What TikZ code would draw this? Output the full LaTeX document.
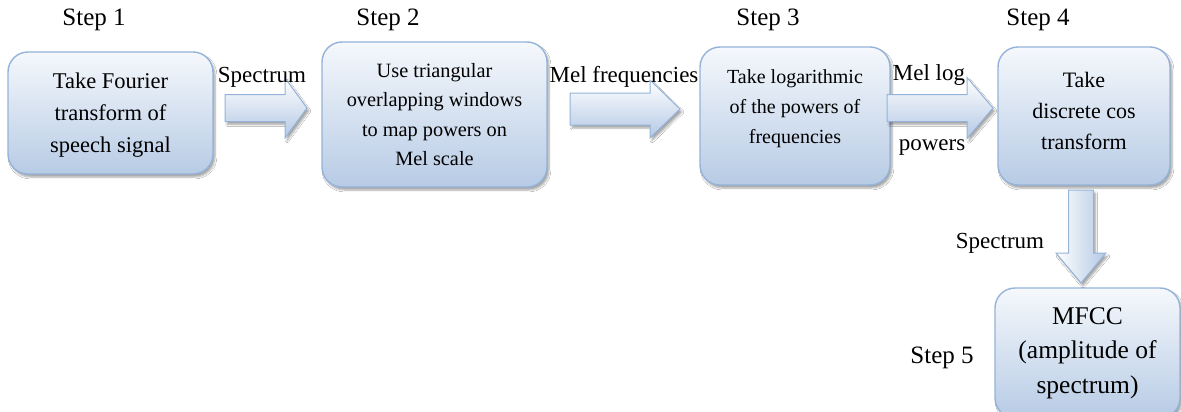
\documentclass[tikz,border=0pt]{standalone}
\usepackage{fontspec}
\setmainfont{Liberation Serif}
\usetikzlibrary{calc,shadows,shadows.blur}

\definecolor{boxline}{HTML}{95B3D9}
\definecolor{boxtop}{HTML}{F5F8FC}
\definecolor{boxbot}{HTML}{B7CBE5}
\definecolor{arrbot}{HTML}{B3C8E4}

% horizontal block arrow: start, tip, body half-height, head half-height, head length
\newcommand\hblockarrow[5]{%
  \draw[blockarrow, top color=white, bottom color=arrbot]
    ($(#1)+(0,-#3)$) -- ($(#2)+(-#5,-#3)$) -- ($(#2)+(-#5,-#4)$) -- (#2)
    -- ($(#2)+(-#5,#4)$) -- ($(#2)+(-#5,#3)$) -- ($(#1)+(0,#3)$) -- cycle;}
% vertical (downward) block arrow: start, tip, body half-width, head half-width, head length
\newcommand\vblockarrow[5]{%
  \draw[blockarrow, left color=white, right color=arrbot]
    ($(#1)+(-#3,0)$) -- ($(#2)+(-#3,-#5)$) -- ($(#2)+(-#4,-#5)$) -- (#2)
    -- ($(#2)+(#4,-#5)$) -- ($(#2)+(#3,-#5)$) -- ($(#1)+(#3,0)$) -- cycle;}

\begin{document}
\begin{tikzpicture}[x=1pt,y=-1pt,
  stepbox/.style={draw=boxline, line width=1.4pt, rounded corners=20pt,
    top color=boxtop, bottom color=boxbot, inner sep=0pt,
    blur shadow={shadow xshift=2pt, shadow yshift=-3pt, shadow blur steps=6, shadow opacity=35}},
  boxtext/.style 2 args={align=center, font=\fontsize{#1}{#2}\selectfont, inner sep=0pt},
  steplabel/.style={font=\fontsize{25}{30}\selectfont, inner sep=0pt},
  arrlabel/.style={font=\fontsize{23}{26}\selectfont, inner sep=0pt},
  blockarrow/.style={draw=boxline, line width=1pt,
    blur shadow={shadow xshift=2pt, shadow yshift=-3pt, shadow blur steps=5, shadow opacity=35}}]

\useasboundingbox (0,0) rectangle (1181,412);
\clip (0,0) rectangle (1181,412);
\fill[white] (0,0) rectangle (1181,412);

% step boxes
\node[stepbox, minimum width=205pt, minimum height=122pt] (b1) at (110.5,113) {};
\node[stepbox, minimum width=225pt, minimum height=145pt] (b2) at (434.5,114.5) {};
\node[stepbox, minimum width=190pt, minimum height=138pt] (b3) at (795,116) {};
\node[stepbox, minimum width=172pt, minimum height=138pt] (b4) at (1084,116) {};
\node[stepbox, minimum width=185pt, minimum height=130pt] (b5) at (1087.5,353) {};

% box texts
\node[boxtext={22.5}{32}] (t1) at ($(b1.center)+(0,2)$) {Take Fourier\\transform of\\speech signal};
\node[boxtext={20.3}{29.3}] (t2) at (b2.center) {Use triangular\\overlapping windows\\to map powers on\\Mel scale};
\node[boxtext={20}{30}] (t3) at ($(b3.center)+(0,-7)$) {Take logarithmic\\of the powers of\\frequencies};
\node[boxtext={22}{31}] (t4) at ($(b4.center)+(0,-5)$) {Take\\discrete cos\\transform};
\node[boxtext={25.5}{34.5}] (t5) at ($(b5.center)+(0,0)$) {MFCC\\(amplitude of\\spectrum)};

% step labels
\node[steplabel] (s1) at (94,20) {Step 1};
\node[steplabel] (s2) at (388,20) {Step 2};
\node[steplabel] (s3) at (768,20) {Step 3};
\node[steplabel] (s4) at (1038,20) {Step 4};
\node[steplabel] (s5) at (942,358) {Step 5};

% block arrows between the steps
\coordinate (a1s) at (225,108);  \coordinate (a1e) at (307,108);
\coordinate (a2s) at (570,109);  \coordinate (a2e) at (680,109);
\coordinate (a3s) at (887,108);  \coordinate (a3e) at (993,108);
\coordinate (a4s) at (1081,190); \coordinate (a4e) at (1081,283);
\hblockarrow{a1s}{a1e}{13.5}{30}{22}
\hblockarrow{a2s}{a2e}{16}{29}{30}
\hblockarrow{a3s}{a3e}{13.5}{30.5}{26}
\vblockarrow{a4s}{a4e}{12.5}{25}{30}

% arrow labels
\node[arrlabel] (l1) at (262,77) {Spectrum};
\node[arrlabel] (l2) at (624,77) {Mel frequencies};
\node[arrlabel] (l3) at (929,75) {Mel log};
\node[arrlabel] (l4) at (932,148) {powers};
\node[arrlabel] (l5) at (1000,243) {Spectrum};
\end{tikzpicture}
\end{document}
